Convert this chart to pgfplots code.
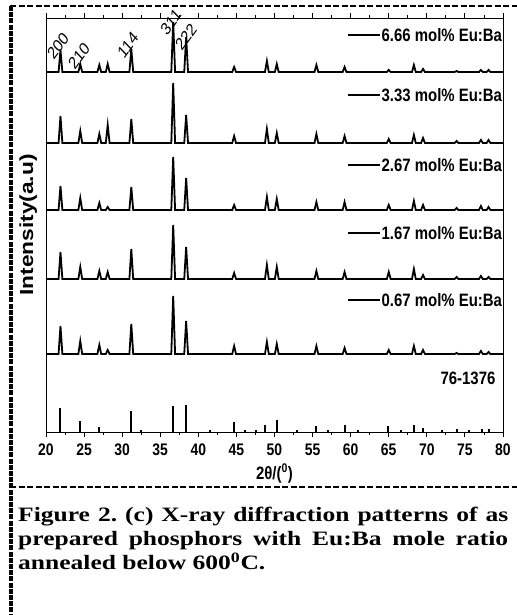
\documentclass[border=0pt]{standalone}
\usepackage{fontspec}
\setmainfont{Liberation Serif}
\setsansfont{Liberation Sans}
\usepackage{pgfplots}
\pgfplotsset{compat=1.18}
\newcommand{\stretchy}[1]{\scalebox{1}[1.2]{#1}}
\newcommand{\plabel}[1]{\scalebox{1}[1.2]{\rotatebox{49}{#1}}}
\begin{document}
\begin{tikzpicture}
\path[use as bounding box] (0bp,0bp) rectangle (517bp,615bp);
\draw[line width=3.5bp, dash pattern=on 5bp off 1.2bp] (11bp,609bp) -- (11bp,0bp);
\draw[line width=2bp, dash pattern=on 6bp off 2.5bp] (10bp,609bp) -- (517bp,609bp);
\draw[line width=1.6bp, dash pattern=on 6bp off 2.5bp] (10bp,128bp) -- (517bp,128bp);
\begin{axis}[
  at={(46bp,183bp)}, anchor=south west, scale only axis,
  width=457bp, height=414bp,
  xmin=20, xmax=80, ymin=0, ymax=414,
  xtick={20,25,...,80}, minor x tick num=1, ytick=\empty,
  tick align=outside, major tick length=5bp, minor tick length=3bp,
  axis line style={line width=0.9bp},
  every tick/.style={line width=0.9bp, black},
  xticklabel={\stretchy{\pgfmathprintnumber[assume math mode=true]{\tick}}},
  xticklabel style={font=\sffamily\bfseries\fontsize{14}{14}\selectfont, yshift=-3bp},
  xlabel={\stretchy{2θ/(\textsuperscript{0})}},
  xlabel style={font=\sffamily\bfseries\fontsize{15}{15}\selectfont, yshift=-2bp},
  ylabel={\scalebox{1.2}[1]{Intensity(a.u)}},
  ylabel style={font=\sffamily\bfseries\fontsize{19}{19}\selectfont, at={(axis description cs:-0.039,0.5)}, anchor=center},
  clip=false,
]
% 6.66 mol%
\addplot[black, line width=1.8bp] coordinates {
(20,360)
(21.65,360)(21.9,382)(22.15,360)
(24.25,360)(24.5,368)(24.75,360)
(26.75,360)(27.0,367)(27.25,360)
(27.85,360)(28.1,368)(28.35,360)
(30.95,360)(31.2,383)(31.45,360)
(36.45,360)(36.7,410)(36.95,360)
(38.15,360)(38.4,395)(38.65,360)
(44.45,360)(44.7,365)(44.95,360)
(48.75,360)(49.0,371)(49.25,360)
(50.05,360)(50.3,368)(50.55,360)
(55.25,360)(55.5,367)(55.75,360)
(58.95,360)(59.2,365)(59.45,360)
(64.75,360)(65.0,362)(65.25,360)
(68.05,360)(68.3,367)(68.55,360)
(69.25,360)(69.5,363)(69.75,360)
(73.65,360)(73.9,361)(74.15,360)
(76.85,360)(77.1,362)(77.35,360)
(77.85,360)(78.1,362)(78.35,360)
(80,360)};
% 3.33 mol%
\addplot[black, line width=1.8bp] coordinates {
(20,289)
(21.65,289)(21.9,316)(22.15,289)
(24.25,289)(24.5,301)(24.75,289)
(26.75,289)(27.0,298)(27.25,289)
(27.85,289)(28.1,307)(28.35,289)
(30.95,289)(31.2,313)(31.45,289)
(36.45,289)(36.7,349)(36.95,289)
(38.15,289)(38.4,317)(38.65,289)
(44.45,289)(44.7,296)(44.95,289)
(48.75,289)(49.0,303)(49.25,289)
(50.05,289)(50.3,299)(50.55,289)
(55.25,289)(55.5,298)(55.75,289)
(58.95,289)(59.2,296)(59.45,289)
(64.75,289)(65.0,293)(65.25,289)
(68.05,289)(68.3,297)(68.55,289)
(69.25,289)(69.5,294)(69.75,289)
(73.65,289)(73.9,291)(74.15,289)
(76.85,289)(77.1,292)(77.35,289)
(77.85,289)(78.1,292)(78.35,289)
(80,289)};
% 2.67 mol%
\addplot[black, line width=1.8bp] coordinates {
(20,222)
(21.65,222)(21.9,246)(22.15,222)
(24.25,222)(24.5,234)(24.75,222)
(26.75,222)(27.0,229)(27.25,222)
(27.85,222)(28.1,225)(28.35,222)
(30.95,222)(31.2,245)(31.45,222)
(36.45,222)(36.7,275)(36.95,222)
(38.15,222)(38.4,254)(38.65,222)
(44.45,222)(44.7,227)(44.95,222)
(48.75,222)(49.0,235)(49.25,222)
(50.05,222)(50.3,233)(50.55,222)
(55.25,222)(55.5,230)(55.75,222)
(58.95,222)(59.2,230)(59.45,222)
(64.75,222)(65.0,227)(65.25,222)
(68.05,222)(68.3,231)(68.55,222)
(69.25,222)(69.5,227)(69.75,222)
(73.65,222)(73.9,224)(74.15,222)
(76.85,222)(77.1,226)(77.35,222)
(77.85,222)(78.1,225)(78.35,222)
(80,222)};
% 1.67 mol%
\addplot[black, line width=1.8bp] coordinates {
(20,153)
(21.65,153)(21.9,180)(22.15,153)
(24.25,153)(24.5,165)(24.75,153)
(26.75,153)(27.0,161)(27.25,153)
(27.85,153)(28.1,160)(28.35,153)
(30.95,153)(31.2,183)(31.45,153)
(36.45,153)(36.7,207)(36.95,153)
(38.15,153)(38.4,185)(38.65,153)
(44.45,153)(44.7,159)(44.95,153)
(48.75,153)(49.0,167)(49.25,153)
(50.05,153)(50.3,165)(50.55,153)
(55.25,153)(55.5,161)(55.75,153)
(58.95,153)(59.2,160)(59.45,153)
(64.75,153)(65.0,160)(65.25,153)
(68.05,153)(68.3,163)(68.55,153)
(69.25,153)(69.5,157)(69.75,153)
(73.65,153)(73.9,155)(74.15,153)
(76.85,153)(77.1,156)(77.35,153)
(77.85,153)(78.1,155)(78.35,153)
(80,153)};
% 0.67 mol%
\addplot[black, line width=1.8bp] coordinates {
(20,78)
(21.65,78)(21.9,106)(22.15,78)
(24.25,78)(24.5,91)(24.75,78)
(26.75,78)(27.0,87)(27.25,78)
(27.85,78)(28.1,82)(28.35,78)
(30.95,78)(31.2,108)(31.45,78)
(36.45,78)(36.7,136)(36.95,78)
(38.15,78)(38.4,111)(38.65,78)
(44.45,78)(44.7,86)(44.95,78)
(48.75,78)(49.0,90)(49.25,78)
(50.05,78)(50.3,88)(50.55,78)
(55.25,78)(55.5,86)(55.75,78)
(58.95,78)(59.2,84)(59.45,78)
(64.75,78)(65.0,82)(65.25,78)
(68.05,78)(68.3,86)(68.55,78)
(69.25,78)(69.5,82)(69.75,78)
(73.65,78)(73.9,79)(74.15,78)
(76.85,78)(77.1,81)(77.35,78)
(77.85,78)(78.1,80)(78.35,78)
(80,78)};
% reference card 76-1376
\addplot[black, ycomb, line width=2bp] coordinates {
(21.9,24)(24.5,11)(27.0,5)(31.2,21)(32.5,2)(36.7,26)(38.4,27)(41.5,2)
(44.7,10)(46.1,2)(47.6,2)(48.8,7)(50.3,12)(53.0,2)(55.5,6)(57.0,2)
(59.2,7)(61.0,1.5)(64.9,6)(66.6,2)(68.3,7)(69.5,4)(72.0,1.5)(73.9,3)
(75.6,2)(77.2,3)(78.1,3)};
% peak indices
\begin{scope}[every node/.style={font=\sffamily\fontsize{14.5}{14.5}\selectfont, inner sep=0pt}]
\node at (axis cs:21.57,386) {\plabel{200}};
\node at (axis cs:24.33,376) {\plabel{210}};
\node at (axis cs:30.76,387) {\plabel{114}};
\node at (axis cs:36.4,410) {\plabel{311}};
\node at (axis cs:38.37,395) {\plabel{222}};
\end{scope}
% labels
\begin{scope}[every node/.style={font=\sffamily\bfseries\fontsize{15}{15}\selectfont, anchor=east, inner sep=0pt}]
\node at (axis cs:79.9,397) {\stretchy{\rule[0.3em]{32bp}{1.6bp}\hspace{2bp}6.66 mol\% Eu:Ba}};
\node at (axis cs:79.9,337) {\stretchy{\rule[0.3em]{32bp}{1.6bp}\hspace{2bp}3.33 mol\% Eu:Ba}};
\node at (axis cs:79.9,267) {\stretchy{\rule[0.3em]{32bp}{1.6bp}\hspace{2bp}2.67 mol\% Eu:Ba}};
\node at (axis cs:79.9,199) {\stretchy{\rule[0.3em]{32bp}{1.6bp}\hspace{2bp}1.67 mol\% Eu:Ba}};
\node at (axis cs:79.9,132) {\stretchy{\rule[0.3em]{32bp}{1.6bp}\hspace{2bp}0.67 mol\% Eu:Ba}};
\node[anchor=center] at (axis cs:75.4,54) {\stretchy{76-1376}};
\end{scope}
\end{axis}
\node[anchor=base west, inner sep=0pt] at (18bp,93bp)
  {\scalebox{1.25}[1]{\parbox[t]{392bp}{\bfseries\fontsize{20.5}{24}\selectfont\frenchspacing
  Figure 2. (c) X-ray diffraction patterns of as\linebreak prepared phosphors with Eu:Ba mole ratio\linebreak annealed below 600\textsuperscript{0}C.}}};
\end{tikzpicture}
\end{document}
